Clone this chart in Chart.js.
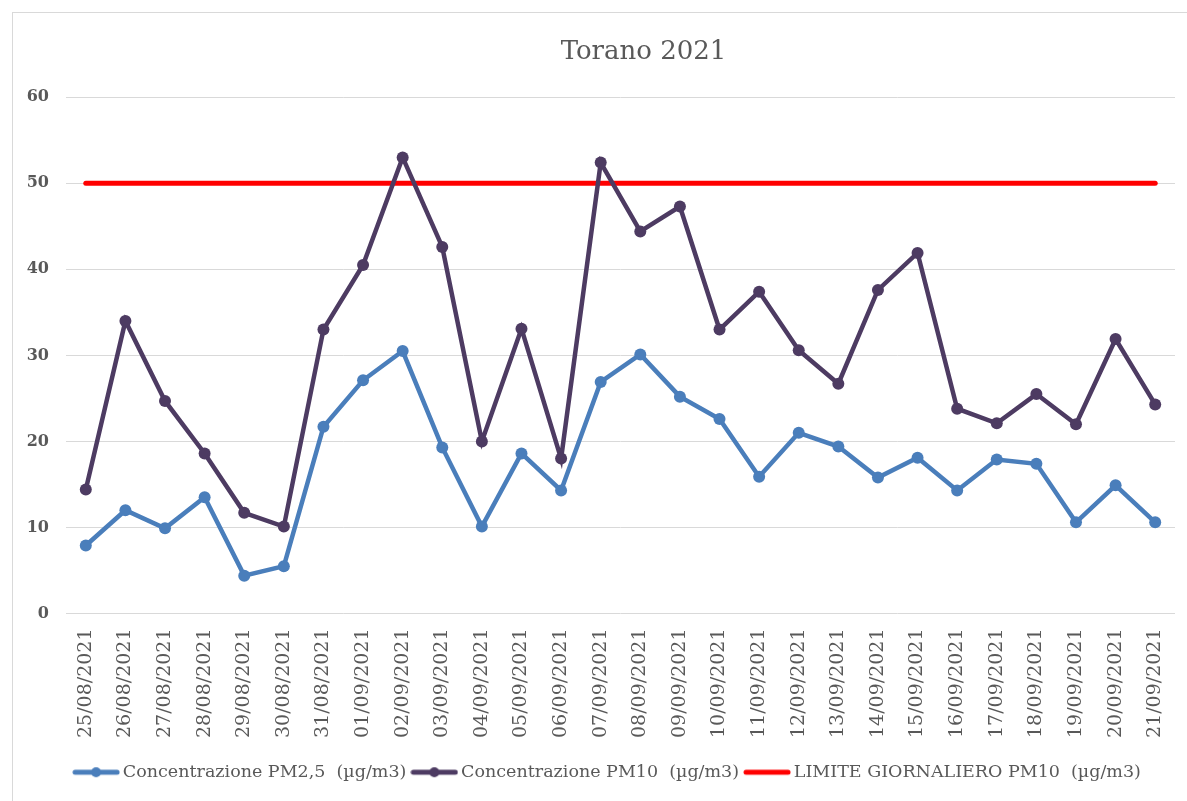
<!DOCTYPE html>
<html>
<head>
<meta charset="utf-8">
<script src="https://cdn.jsdelivr.net/npm/chart.js@4/dist/chart.umd.min.js"></script>
<style>
  html, body { margin: 0; padding: 0; background: #ffffff; }
  #wrap { position: relative; width: 1187px; height: 801px; overflow: hidden; }
  #frame { position: absolute; left: 12px; top: 12px; width: 1190px; height: 800px; border: 1px solid #d9d9d9; box-sizing: border-box; }
  canvas { position: absolute; left: 0; top: 0; }
</style>
</head>
<body>
<div id="wrap">
  <div id="frame"></div>
  <canvas id="c" width="1187" height="801"></canvas>
</div>
<script>
const chartTitle = "Torano 2021";
const categories = [
  "25/08/2021","26/08/2021","27/08/2021","28/08/2021","29/08/2021","30/08/2021","31/08/2021",
  "01/09/2021","02/09/2021","03/09/2021","04/09/2021","05/09/2021","06/09/2021","07/09/2021",
  "08/09/2021","09/09/2021","10/09/2021","11/09/2021","12/09/2021","13/09/2021","14/09/2021",
  "15/09/2021","16/09/2021","17/09/2021","18/09/2021","19/09/2021","20/09/2021","21/09/2021"
];
const pm25Label = "Concentrazione PM2,5  (µg/m3)";
const pm10Label = "Concentrazione PM10  (µg/m3)";
const limitLabel = "LIMITE GIORNALIERO PM10  (µg/m3)";
const pm25 = [7.9, 12.0, 9.9, 13.5, 4.4, 5.5, 21.7, 27.1, 30.5, 19.3, 10.1, 18.6, 14.3, 26.9,
              30.1, 25.2, 22.6, 15.9, 21.0, 19.4, 15.8, 18.1, 14.3, 17.9, 17.4, 10.6, 14.9, 10.6];
const pm10 = [14.4, 34.0, 24.7, 18.6, 11.7, 10.1, 33.0, 40.5, 53.0, 42.6, 20.0, 33.1, 18.0, 52.4,
              44.4, 47.3, 33.0, 37.4, 30.6, 26.7, 37.6, 41.9, 23.8, 22.1, 25.5, 22.0, 31.9, 24.3];
const limitPM10 = [50, 50, 50, 50, 50, 50, 50, 50, 50, 50, 50, 50, 50, 50,
                   50, 50, 50, 50, 50, 50, 50, 50, 50, 50, 50, 50, 50, 50];
const yTicks = [0, 10, 20, 30, 40, 50, 60];

const blue = "#4a7ebb";
const purple = "#4d3b62";
const red = "#ff0000";
const textGray = "#595959";
const serif = "'DejaVu Serif', 'Liberation Serif', serif";

function legendMarker(color, withDot) {
  const cv = document.createElement("canvas");
  cv.width = 48; cv.height = 12;
  const g = cv.getContext("2d");
  g.strokeStyle = color; g.lineWidth = 5; g.lineCap = "round";
  g.beginPath(); g.moveTo(3, 6); g.lineTo(45, 6); g.stroke();
  if (withDot) {
    g.fillStyle = color;
    g.beginPath(); g.arc(24, 6, 5, 0, Math.PI * 2); g.fill();
  }
  return cv;
}
const markers = [legendMarker(blue, true), legendMarker(purple, true), legendMarker(red, false)];

// Excel places the title and legend slightly right of the canvas centre
const shiftBoxes = {
  id: "shiftBoxes",
  afterLayout(chart) {
    const t = chart.titleBlock;
    if (t) { t.left += 56; t.right += 56; }
    const l = chart.legend;
    if (l) { l.left += 22; l.right += 22; }
  }
};

new Chart(document.getElementById("c"), {
  type: "line",
  data: {
    labels: categories,
    datasets: [
      { label: pm25Label, data: pm25, borderColor: blue, backgroundColor: blue,
        borderWidth: 4.5, pointRadius: 6, pointBackgroundColor: blue, pointBorderWidth: 0, tension: 0 },
      { label: pm10Label, data: pm10, borderColor: purple, backgroundColor: purple,
        borderWidth: 4.5, pointRadius: 6, pointBackgroundColor: purple, pointBorderWidth: 0, tension: 0 },
      { label: limitLabel, data: limitPM10, borderColor: red, backgroundColor: red,
        borderWidth: 5, pointRadius: 0, borderCapStyle: "round", tension: 0 }
    ]
  },
  plugins: [shiftBoxes],
  options: {
    responsive: false,
    animation: false,
    devicePixelRatio: 1,
    layout: { padding: { left: 0, right: 12, top: 0, bottom: 10 } },
    plugins: {
      tooltip: { enabled: false },
      title: {
        display: true, text: chartTitle, color: textGray,
        font: { family: serif, size: 26, weight: "normal" },
        padding: { top: 37, bottom: 29 }
      },
      legend: {
        position: "bottom",
        labels: {
          color: textGray,
          font: { family: serif, size: 17.5 },
          usePointStyle: true,
          pointStyleWidth: 36,
          padding: 10,
          generateLabels(chart) {
            return chart.data.datasets.map((ds, i) => ({
              text: ds.label, fillStyle: ds.borderColor, strokeStyle: ds.borderColor,
              lineWidth: 0, pointStyle: markers[i], hidden: false, datasetIndex: i, fontColor: textGray
            }));
          }
        }
      }
    },
    scales: {
      x: {
        offset: true,
        grid: { display: false, drawTicks: true, tickLength: 15, tickColor: "rgba(0,0,0,0)" },
        border: { display: false },
        ticks: { color: textGray, font: { family: serif, size: 19 }, minRotation: 90, maxRotation: 90, padding: 0, autoSkip: false },
        afterFit(s) { s.height = 140; }
      },
      y: {
        min: 0, max: 60,
        afterBuildTicks(s) { s.ticks = yTicks.map(v => ({ value: v })); },
        grid: { color: "#d9d9d9", lineWidth: 1, drawTicks: false },
        border: { display: false },
        ticks: { color: textGray, font: { family: serif, size: 16, weight: "bold" }, padding: 17 },
        afterFit(s) { s.width = 66; }
      }
    }
  }
});
</script>
</body>
</html>
